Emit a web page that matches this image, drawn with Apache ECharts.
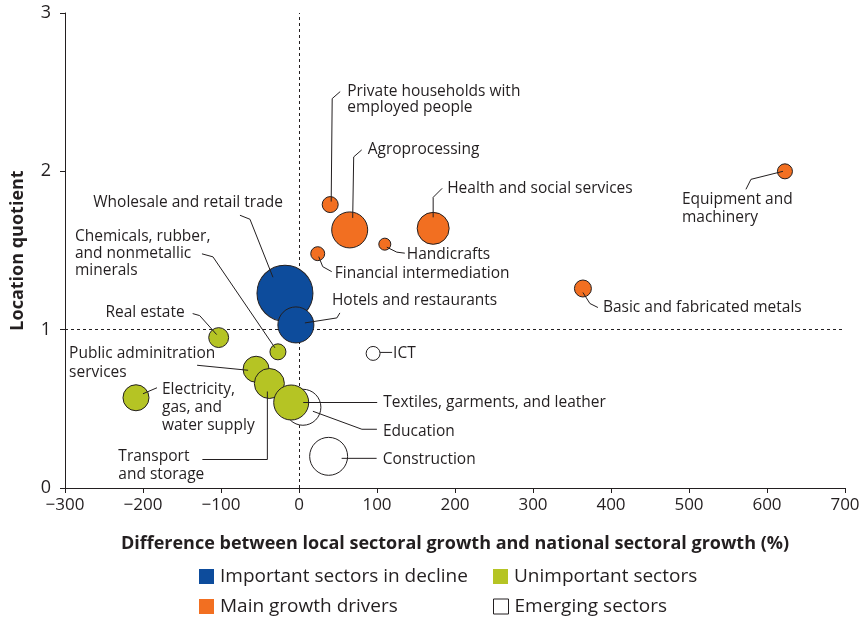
<!DOCTYPE html>
<html>
<head>
<meta charset="utf-8">
<script src="https://cdn.jsdelivr.net/npm/echarts@6/dist/echarts.min.js"></script>
<style>
  html, body { margin: 0; padding: 0; background: #fff; }
  #chart { width: 868px; height: 621px; }
</style>
</head>
<body>
<div id="chart"></div>
<script>
// Sector groups: x = growth difference (%), y = location quotient, size = bubble weight
const declineNames = ['Wholesale and retail trade', 'Hotels and restaurants'];
const declineX = [-18, -4];
const declineY = [1.23, 1.03];
const declineSize = [87, 36];

const unimportantNames = ['Real estate', 'Chemicals, rubber,\nand nonmetallic\nminerals', 'Electricity,\ngas, and\nwater supply',
  'Public adminitration\nservices', 'Transport\nand storage', 'Textiles, garments, and leather'];
const unimportantX = [-103, -27, -209, -55, -38, -10];
const unimportantY = [0.95, 0.86, 0.57, 0.75, 0.66, 0.54];
const unimportantSize = [11, 7.1, 18.8, 18.8, 25, 34];

const growthNames = ['Private households with\nemployed people', 'Agroprocessing', 'Health and social services',
  'Handicrafts', 'Financial intermediation', 'Equipment and\nmachinery', 'Basic and fabricated metals'];
const growthX = [40, 65, 172, 110, 24, 623, 364];
const growthY = [1.79, 1.63, 1.64, 1.54, 1.48, 2.0, 1.26];
const growthSize = [7.1, 36, 28.4, 4, 5.4, 6.25, 8];

const emergingNames = ['ICT', 'Education', 'Construction'];
const emergingX = [95, 5, 38];
const emergingY = [0.85, 0.51, 0.20];
const emergingSize = [5.4, 36, 40];

const legendNames = ['Important sectors in decline', 'Unimportant sectors', 'Main growth drivers', 'Emerging sectors'];
const xTicks = [-300, -200, -100, 0, 100, 200, 300, 400, 500, 600, 700];
const yTicks = [0, 1, 2, 3];

// Callout placement (pixel offsets from the bubble centre): leader path, text anchor, alignment
const callouts = {
  'Wholesale and retail trade': { path: [[-12, -16], [-35, -74], [-45, -78]], text: [-2, -91], align: 'right' },
  'Hotels and restaurants': { path: [[9, -2], [41, -7], [44, -12]], text: [36, -24] },
  'Real estate': { path: [[-2, -3], [-19, -22], [-26, -24]], text: [-34, -25], align: 'right' },
  'Chemicals, rubber,\nand nonmetallic\nminerals': { path: [[-3, -4], [-65, -95], [-76, -98]], text: [-203, -98], lh: 17 },
  'Electricity,\ngas, and\nwater supply': { path: [[7, -4], [21, -10]], text: [26, 10], lh: 18 },
  'Public adminitration\nservices': { path: [[-8, 1], [-59, -4]], text: [-187, -6.5], lh: 19 },
  'Transport\nand storage': { path: [[-2, 8], [-2, 76], [-67, 76]], text: [-151, 82], lh: 18 },
  'Textiles, garments, and leather': { path: [[12, 0], [86, 0]], text: [92, 0] },
  'Private households with\nemployed people': { path: [[1, -3], [2, -106], [10, -113]], text: [17, -105.5], lh: 16 },
  'Agroprocessing': { path: [[3, -12], [4, -73], [12, -80]], text: [18, -80] },
  'Health and social services': { path: [[0, -11], [0, -31], [9, -40]], text: [14, -40] },
  'Handicrafts': { path: [[2, 3], [12, 8], [20, 9]], text: [22, 10] },
  'Financial intermediation': { path: [[1, 3], [5, 13], [14, 18]], text: [17, 20] },
  'Equipment and\nmachinery': { path: [[-2, 0], [-34, 8], [-39, 18]], text: [-103, 37], lh: 18 },
  'Basic and fabricated metals': { path: [[0, 4], [7, 15], [15, 19]], text: [20, 19] },
  'ICT': { path: [[7, -1], [19, -1]], text: [20, 0] },
  'Education': { path: [[10, 4], [59, 22], [74, 22]], text: [80, 24] },
  'Construction': { path: [[13, 2], [48, 2]], text: [54, 3] }
};

const INK = '#231f20';
const FONT = '"Open Sans", "Noto Sans", sans-serif';

function points(names, xs, ys, sizes) {
  return names.map((n, i) => ({ name: n, value: [xs[i], ys[i], sizes[i]] }));
}
// Drawing order: emerging at the back, important-in-decline on top
const groups = [
  { name: legendNames[3], color: '#ffffff', data: points(emergingNames, emergingX, emergingY, emergingSize) },
  { name: legendNames[1], color: '#b5c424', data: points(unimportantNames, unimportantX, unimportantY, unimportantSize) },
  { name: legendNames[2], color: '#f26f21', data: points(growthNames, growthX, growthY, growthSize) },
  { name: legendNames[0], color: '#0d4c9c', data: points(declineNames, declineX, declineY, declineSize) }
];

const calloutData = [];
groups.forEach(g => g.data.forEach(d => calloutData.push({ name: d.name, value: [d.value[0], d.value[1]] })));

const bubbleSeries = groups.map((g, gi) => ({
  type: 'scatter',
  name: g.name,
  data: g.data,
  symbol: 'circle',
  symbolSize: v => 2 * 3 * Math.sqrt(v[2]),
  itemStyle: { color: g.color, borderColor: INK, borderWidth: 1, opacity: 1 },
  emphasis: { disabled: true },
  z: 3,
  markLine: gi === 0 ? {
    silent: true,
    symbol: 'none',
    z: 1,
    label: { show: false },
    lineStyle: { color: INK, type: [3, 3], width: 1 },
    data: [{ xAxis: 0 }, { yAxis: 1 }]
  } : undefined
}));

const calloutSeries = {
  type: 'custom',
  data: calloutData,
  z: 5,
  silent: true,
  renderItem: function (params, api) {
    const c = api.coord([api.value(0), api.value(1)]);
    const item = calloutData[params.dataIndex];
    const L = callouts[item.name];
    const pts = L.path.map(o => [c[0] + o[0], c[1] + o[1]]);
    return {
      type: 'group',
      children: [
        { type: 'polyline', shape: { points: pts }, style: { stroke: INK, lineWidth: 1, fill: null } },
        {
          type: 'text', x: c[0] + L.text[0], y: c[1] + L.text[1],
          style: {
            text: item.name,
            align: L.align || 'left', verticalAlign: 'middle',
            fontSize: 15.5, fontFamily: FONT, fill: INK, lineHeight: L.lh || 18
          }
        }
      ]
    };
  }
};

// One legend block per entry so the 2 x 2 arrangement lines up in columns
const legendPos = [[199, 567], [493, 567], [199, 597], [493, 597]];
const legends = legendNames.map((n, i) => ({
  orient: 'horizontal', icon: 'rect', itemWidth: 15, itemHeight: 15, padding: 0,
  selectedMode: false, left: legendPos[i][0], top: legendPos[i][1],
  textStyle: { fontSize: 19, fontFamily: FONT, color: INK, padding: [0, 0, 0, 1] },
  data: [{ name: n, itemStyle: i === 3 ? { borderWidth: 1, borderColor: INK } : { borderWidth: 0 } }]
}));

const chart = echarts.init(document.getElementById('chart'), null, { renderer: 'canvas' });
chart.setOption({
  animation: false,
  backgroundColor: '#fff',
  grid: { left: 65, right: 23, top: 13, bottom: 133 },
  xAxis: {
    type: 'value', min: xTicks[0], max: xTicks[xTicks.length - 1], interval: 100,
    name: 'Difference between local sectoral growth and national sectoral growth (%)',
    nameLocation: 'middle', nameGap: 47,
    nameTextStyle: { fontSize: 18, fontWeight: 'bold', fontFamily: FONT, color: INK },
    axisLine: { onZero: false, lineStyle: { color: INK, width: 1 } },
    axisTick: { length: 5, lineStyle: { color: INK } },
    axisLabel: { fontSize: 17, fontFamily: FONT, color: INK, margin: 9,
      formatter: v => (v < 0 ? '\u2212' + Math.abs(v) : String(v)) },
    splitLine: { show: false }
  },
  yAxis: {
    type: 'value', min: yTicks[0], max: yTicks[yTicks.length - 1], interval: 1,
    name: 'Location quotient', nameLocation: 'middle', nameGap: 38,
    nameTextStyle: { fontSize: 18, fontWeight: 'bold', fontFamily: FONT, color: INK },
    axisLine: { show: true, onZero: false, lineStyle: { color: INK, width: 1 } },
    axisTick: { show: true, length: 5, lineStyle: { color: INK } },
    axisLabel: { fontSize: 18, fontFamily: FONT, color: INK, margin: 14 },
    splitLine: { show: false }
  },
  legend: legends,
  series: bubbleSeries.concat([calloutSeries])
});
</script>
</body>
</html>
